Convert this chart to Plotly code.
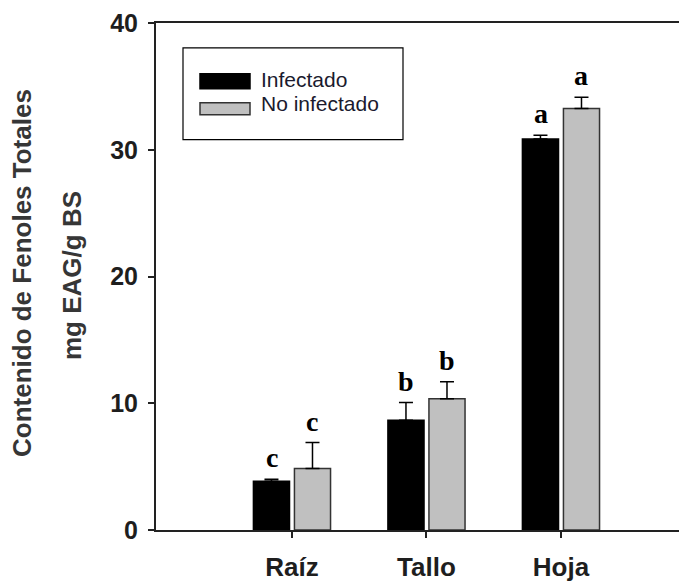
import plotly.graph_objects as go

categories = ["Raíz", "Tallo", "Hoja"]
series_names = ["Infectado", "No infectado"]
infectado = [3.85, 8.65, 30.85]
infectado_err = [0.15, 1.4, 0.3]
no_infectado = [4.85, 10.35, 33.25]
no_infectado_err = [2.05, 1.35, 0.9]
letters_inf = ["c", "b", "a"]
letters_no = ["c", "b", "a"]
y_ticks = [0, 10, 20, 30, 40]
y_title_lines = ["Contenido de Fenoles Totales", "mg EAG/g BS"]

# page body has an 8px margin, so the figure is shrunk by 8px and offset
OFF = 8
PAGE_W, PAGE_H = 687, 582
PL, PT, PR, PB = 156, 23, 687, 532  # plot area in page pixels
W, H = PAGE_W - OFF, PAGE_H - OFF
ML, MT, MR, MB = PL - OFF, PT - OFF, 0, PAGE_H - PB

xpos = list(range(len(categories)))
fig = go.Figure()
fig.add_trace(go.Bar(
    x=xpos, y=infectado, name=series_names[0],
    marker=dict(color="#000000", line=dict(color="#000000", width=1.5)),
    error_y=dict(type="data", symmetric=False, array=infectado_err,
                 arrayminus=[0] * len(infectado), color="#000000",
                 thickness=1.5, width=7),
    showlegend=False,
))
fig.add_trace(go.Bar(
    x=xpos, y=no_infectado, name=series_names[1],
    marker=dict(color="#c0c0c0", line=dict(color="#333333", width=1.5)),
    error_y=dict(type="data", symmetric=False, array=no_infectado_err,
                 arrayminus=[0] * len(no_infectado), color="#000000",
                 thickness=1.5, width=7),
    showlegend=False,
))

offset = 0.15
annotations = []
for i in range(len(categories)):
    annotations.append(dict(x=i - offset, y=infectado[i] + infectado_err[i],
                            xref="x", yref="y", text=f"<b>{letters_inf[i]}</b>",
                            showarrow=False, yanchor="bottom", yshift=4,
                            font=dict(family="Liberation Serif", size=28, color="#000")))
    annotations.append(dict(x=i + offset, y=no_infectado[i] + no_infectado_err[i],
                            xref="x", yref="y", text=f"<b>{letters_no[i]}</b>",
                            showarrow=False, yanchor="bottom", yshift=4,
                            font=dict(family="Liberation Serif", size=28, color="#000")))

pw = PR - PL
ph = PB - PT
def px_x(p):
    return (p - PL) / pw
def px_y(p):
    return (PB - p) / ph

for xp, yp, line in zip([22, 72], [274, 277], y_title_lines):
    annotations.append(dict(x=px_x(xp), y=px_y(yp), xref="paper", yref="paper",
                            text=f"<b>{line}</b>", textangle=-90, showarrow=False,
                            xanchor="center", yanchor="middle",
                            font=dict(family="Liberation Sans", size=26, color="#363636")))

shapes = [dict(type="rect", xref="paper", yref="paper",
               x0=px_x(183), x1=px_x(403), y0=px_y(140), y1=px_y(48),
               line=dict(color="#000", width=1.2), fillcolor="white")]
legend_rows = [((74, 89), 80, "#000000", "#000000"), ((103, 115), 104, "#c0c0c0", "#333333")]
for ((y0, y1), yt, fc, lc), name in zip(legend_rows, series_names):
    shapes.append(dict(type="rect", xref="paper", yref="paper",
                       x0=px_x(200), x1=px_x(250), y0=px_y(y1), y1=px_y(y0),
                       line=dict(color=lc, width=1.5), fillcolor=fc))
    annotations.append(dict(x=px_x(259), y=px_y(yt), xref="paper", yref="paper",
                            text=name, showarrow=False, xanchor="left", yanchor="middle",
                            font=dict(family="Liberation Sans", size=21, color="#1a1a2e")))

fig.update_layout(
    width=W, height=H,
    margin=dict(l=ML, r=MR, t=MT, b=MB, pad=0),
    paper_bgcolor="white", plot_bgcolor="white",
    barmode="group", bargap=0.39, bargroupgap=0.12,
    annotations=annotations, shapes=shapes,
    xaxis=dict(range=[-1.011, 2.937], tickmode="array", tickvals=xpos,
               ticktext=[f"<b>{c}</b>" for c in categories],
               showline=True, linecolor="#222", linewidth=2, mirror=True,
               ticks="outside", ticklen=6, tickwidth=2, tickcolor="#222",
               ticklabelstandoff=7,
               showgrid=False, zeroline=False,
               tickfont=dict(family="Liberation Sans", size=26, color="#1e1e1e")),
    yaxis=dict(range=[0, 40], tickmode="array", tickvals=y_ticks,
               ticktext=[f"<b>{t}</b>" for t in y_ticks],
               showline=True, linecolor="#222", linewidth=2,
               ticks="outside", ticklen=6, tickwidth=2, tickcolor="#222",
               ticklabelstandoff=5,
               showgrid=False, zeroline=False,
               tickfont=dict(family="Liberation Sans", size=25, color="#1e1e1e")),
)

fig.write_html("out.html")
